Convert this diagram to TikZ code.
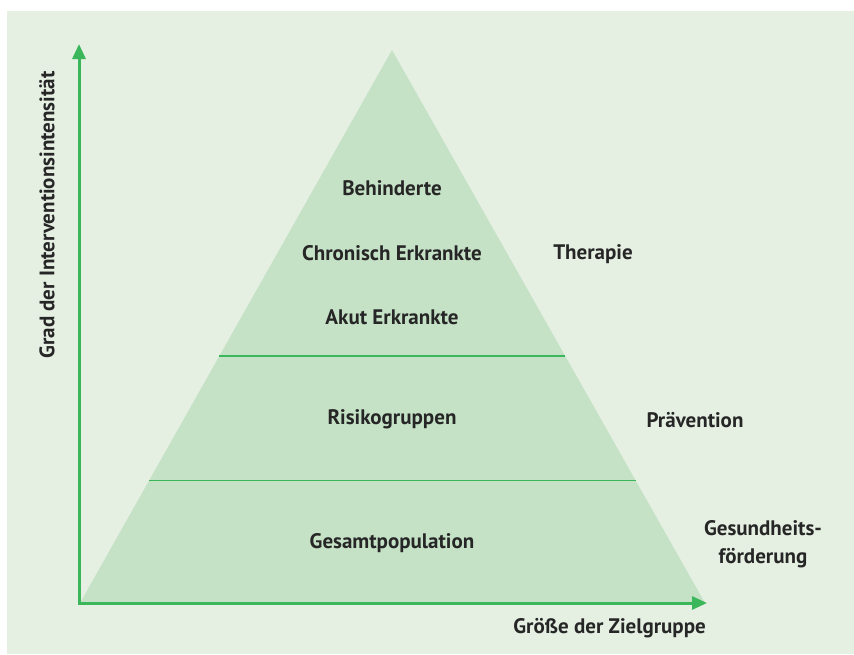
\documentclass[tikz,border=0pt]{standalone}
\usepackage{fontspec}
\setmainfont{PT Sans}
\usetikzlibrary{arrows.meta,calc,positioning}
\definecolor{bgGreen}{HTML}{E5F0E3}
\definecolor{pyrGreen}{HTML}{C5E2C6}
\definecolor{lineGreen}{HTML}{3BB65B}
\definecolor{txtGray}{HTML}{262626}
\tikzset{lbl/.style={text=txtGray, font=\fontsize{21}{28}\selectfont\bfseries, inner sep=0pt},
         axis/.style={draw=lineGreen, line width=3pt, {Triangle[width=13pt,length=15pt]}-{Triangle[width=13pt,length=15pt]}},
         sep/.style={draw=lineGreen, line width=1.4pt}}
\begin{document}
\begin{tikzpicture}[x=1pt,y=-1pt]
  \useasboundingbox (0,0) rectangle (854,654);
  \fill[bgGreen] (7,11) rectangle (854,654);
  % pyramid
  \coordinate (apex) at (392,50);
  \coordinate (baseL) at (80,603);
  \coordinate (baseR) at (705,603);
  \fill[pyrGreen] (apex) -- (baseL) -- (baseR) -- cycle;
  \draw[sep] ($(apex)!0.553!(baseL)$) -- ($(apex)!0.553!(baseR)$);
  \draw[sep] ($(apex)!0.779!(baseL)$) -- ($(apex)!0.779!(baseR)$);
  % axes
  \coordinate (yTop) at (79,44);
  \coordinate (origin) at (79,603);
  \coordinate (xEnd) at (707,603);
  \draw[axis, line join=miter] (yTop) -- (origin) -- (xEnd);
  % levels
  \node[lbl] (behind) at (392,188) {Behinderte};
  \node[lbl] (chron) at (392,253) {Chronisch Erkrankte};
  \node[lbl] (akut) at (392,317) {Akut Erkrankte};
  \node[lbl] (risiko) at (392,419) {Risikogruppen};
  \node[lbl] (gesamt) at (392,543) {Gesamtpopulation};
  % stages
  \node[lbl] (therapie) at (593,254) {Therapie};
  \node[lbl] (praev) at (695,420) {Prävention};
  \node[lbl, align=center] (foerd) at (763,544) {Gesundheits-\\förderung};
  % axis labels
  \node[lbl, anchor=east] (xlbl) at (706,628) {Größe der Zielgruppe};
  \node[lbl, rotate=90] (ylbl) at (47,215) {Grad der Interventionsintensität};
\end{tikzpicture}
\end{document}
